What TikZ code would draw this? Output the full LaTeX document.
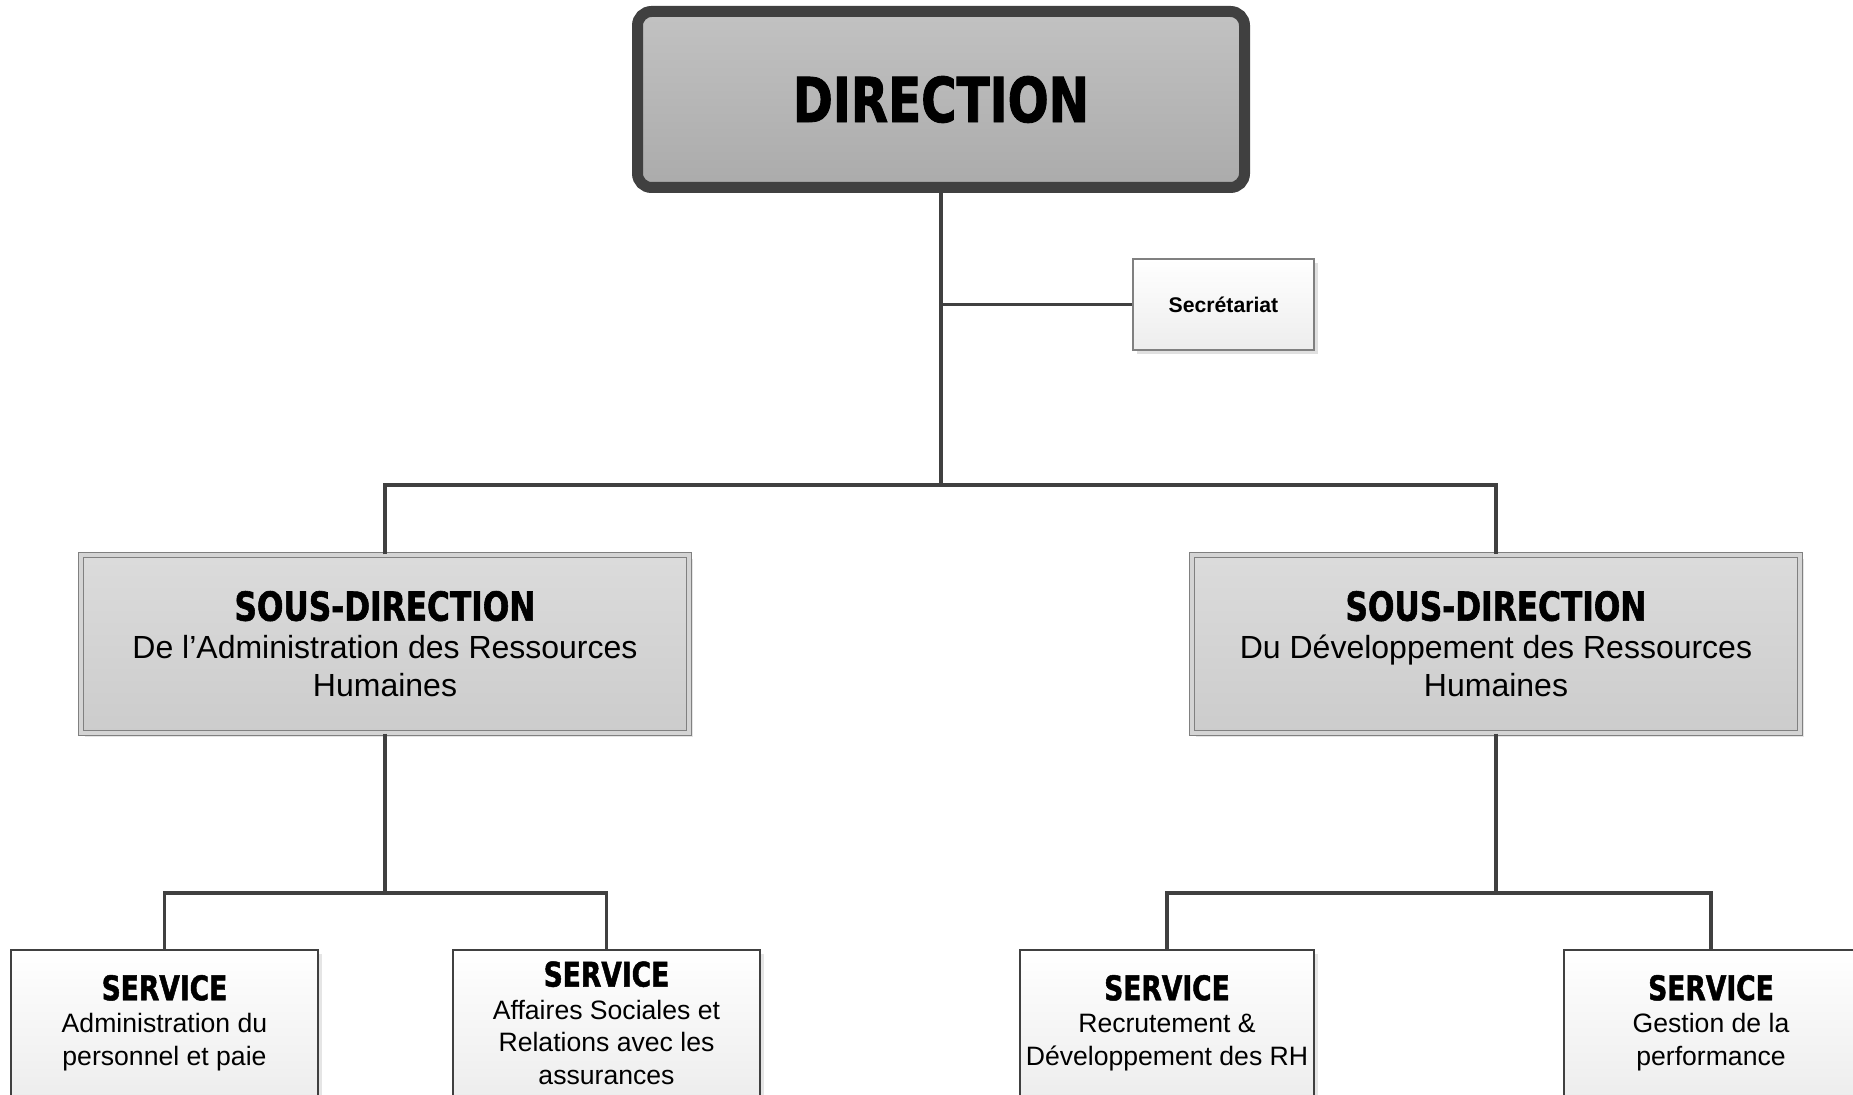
\documentclass[tikz,border=0pt]{standalone}
\usepackage{fontspec}
\setmainfont{Liberation Sans}
\newfontfamily\heavyfont{DejaVu Sans}[FakeStretch=0.78, FakeBold=1.4]
\usetikzlibrary{shadows}
\definecolor{linkgray}{HTML}{404040}
\definecolor{boxgray}{HTML}{808080}
\tikzstyle{direction} = [rectangle, rounded corners=7pt, draw=linkgray, line width=5.5pt, top color=black!24, bottom color=black!33, drop shadow={shadow xshift=2pt, shadow yshift=-2pt, fill=black!10, opacity=1}, minimum width=303.5pt, minimum height=88pt, font=\heavyfont\bfseries\fontsize{31}{36}\selectfont]
\tikzstyle{secret} = [rectangle, draw=boxgray, line width=0.6pt, top color=white, bottom color=black!7, drop shadow={shadow xshift=2pt, shadow yshift=-2pt, fill=black!12, opacity=1}, minimum width=90.5pt, minimum height=45.5pt, font=\bfseries\fontsize{10.6}{13}\selectfont]
\tikzstyle{sousdir} = [rectangle, draw=boxgray, line width=0.6pt, double=black!17, double distance=2pt, top color=black!14, bottom color=black!20, drop shadow={shadow xshift=2pt, shadow yshift=-2pt, fill=black!10, opacity=1}, minimum width=304pt, minimum height=89pt, align=center, font=\fontsize{16}{19}\selectfont]
\tikzstyle{service} = [rectangle, draw=linkgray, line width=0.7pt, top color=white, bottom color=black!7, drop shadow={shadow xshift=2pt, shadow yshift=-2pt, fill=black!10, opacity=1}, minimum height=73pt, inner sep=2pt, align=center, font=\fontsize{13.3}{16.3}\selectfont]
\tikzstyle{link} = [draw=linkgray, line width=1.8pt]
\newcommand{\heavytitle}[1]{{\heavyfont\bfseries\fontsize{20}{19}\selectfont #1}}
\newcommand{\servtitle}[1]{{\heavyfont\bfseries\fontsize{17}{16.3}\selectfont #1}}

\begin{document}
\begin{tikzpicture}[x=0.5pt, y=-0.5pt]
    \useasboundingbox (0,0) rectangle (1853,1095);

    \node (dir) [direction] at (941,99.5) {DIRECTION};
    \node (sec) [secret] at (1223.5,304.5) {Secrétariat};

    \node (sdl) [sousdir] at (385,644) {\heavytitle{SOUS-DIRECTION}\\De l’Administration des Ressources\\Humaines};
    \node (sdr) [sousdir] at (1496,644) {\heavytitle{SOUS-DIRECTION}\\Du Développement des Ressources\\Humaines};

    \node (srv1) [service, minimum width=153.5pt] at (164.5,1023) {\servtitle{SERVICE}\\Administration du\\personnel et paie};
    \node (srv2) [service, minimum width=153.5pt] at (606.5,1023) {\servtitle{SERVICE}\\Affaires Sociales et\\Relations avec les\\assurances};
    \node (srv3) [service, minimum width=147pt] at (1167,1023) {\servtitle{SERVICE}\\Recrutement \&\\Développement des RH};
    \node (srv4) [service, minimum width=147pt] at (1711,1023) {\servtitle{SERVICE}\\Gestion de la\\performance};

    \coordinate (bus0) at (941,485);
    \coordinate (bus1) at (385,893);
    \coordinate (bus2) at (1496,893);

    \draw [link] (dir.south) -- (bus0);
    \draw [link] (sec.west) -- (sec.west -| dir.south);
    \draw [link] (sdl.north) |- (bus0) -| (sdr.north);
    \draw [link] (sdl.south) -- (bus1);
    \draw [link] (srv1.north) |- (bus1) -| (srv2.north);
    \draw [link] (sdr.south) -- (bus2);
    \draw [link] (srv3.north) |- (bus2) -| (srv4.north);
\end{tikzpicture}
\end{document}
